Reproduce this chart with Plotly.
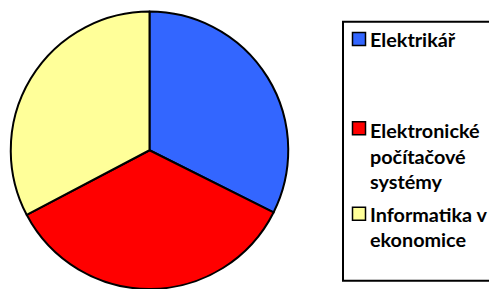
import plotly.graph_objects as go

labels = ["Elektrikář", "Elektronické počítačové systémy", "Informatika v ekonomice"]
legend_lines = [["Elektrikář"], ["Elektronické", "počítačové", "systémy"], ["Informatika v", "ekonomice"]]
values = [32.4, 34.9, 32.7]
colors = ["#3366FF", "#FF0000", "#FFFF99"]

W, H = 489, 289
FS = 19.8

def px(x):
    return x / W

def py(y):
    return 1 - y / H

fig = go.Figure(go.Pie(
    labels=labels, values=values, sort=False, direction="clockwise", rotation=0,
    marker=dict(colors=colors, line=dict(color="black", width=2)),
    textinfo="none", hoverinfo="label+percent", showlegend=False,
    domain=dict(x=[px(149.5 - 139), px(149.5 + 139)], y=[0, py(11.5)]),
))

shapes = [dict(type="rect", xref="paper", yref="paper",
               x0=px(343), x1=px(500), y0=py(280.7), y1=py(21.7),
               line=dict(color="black", width=2), fillcolor="white", layer="below")]
annotations = []
marker_y = [39, 128.3, 213.7]
first_baseline = [45, 136, 219.3]
line_gap = 25.6
for c, lines, my, b0 in zip(colors, legend_lines, marker_y, first_baseline):
    shapes.append(dict(type="rect", xref="paper", yref="paper",
                       x0=px(352.5), x1=px(365.5), y0=py(my + 6.5), y1=py(my - 6.5),
                       line=dict(color="black", width=1.5), fillcolor=c))
    for i, t in enumerate(lines):
        base = b0 + i * line_gap
        annotations.append(dict(xref="paper", yref="paper", x=px(367.5), y=py(base - FS),
                                xanchor="left", yanchor="top", showarrow=False, align="left",
                                text="<b>" + t + "</b>",
                                font=dict(family="Lato", size=FS, color="black")))

fig.update_layout(width=W, height=H, margin=dict(l=0, r=0, t=0, b=0),
                  paper_bgcolor="white", plot_bgcolor="white",
                  shapes=shapes, annotations=annotations)
fig.write_html("out.html", config={"displayModeBar": False},
               post_script="document.body.style.margin='0';document.body.style.overflow='hidden';")
